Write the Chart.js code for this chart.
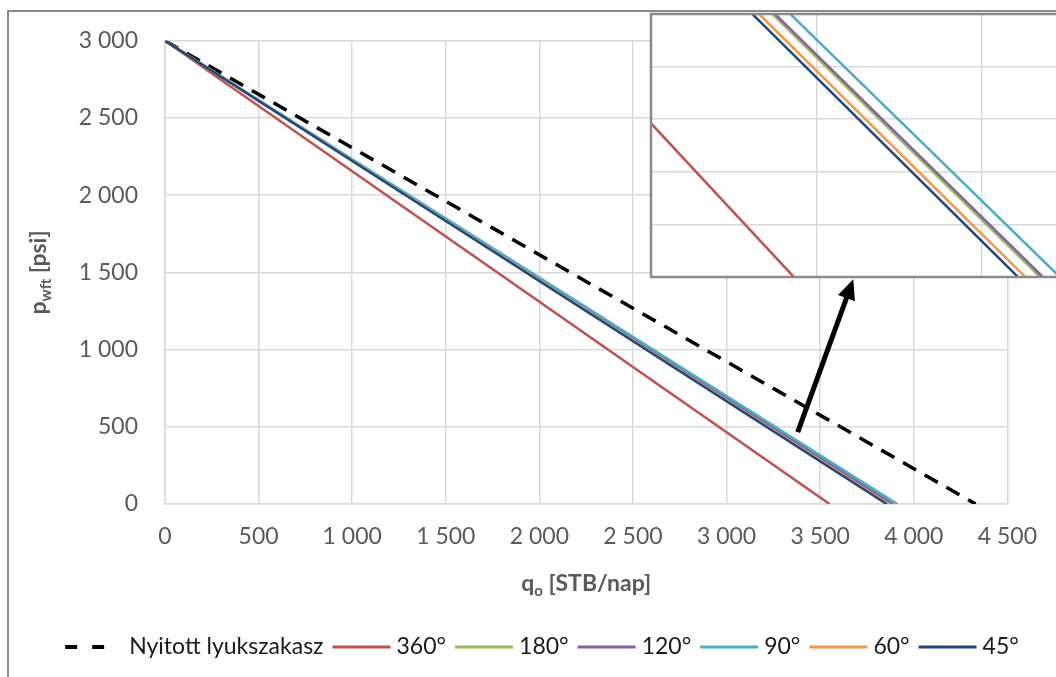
<!DOCTYPE html>
<html>
<head>
<meta charset="utf-8">
<script src="https://cdn.jsdelivr.net/npm/chart.js@4.4.0/dist/chart.umd.min.js"></script>
<style>
  html, body { margin: 0; padding: 0; background: #fff; overflow: hidden; width: 1056px; height: 677px; }
  #frame { position: absolute; left: 7px; top: 10px; width: 1080px; height: 700px; border: 2px solid #8a8a8a; }
  #mainWrap { position: absolute; left: 0; top: 0; width: 1056px; height: 677px; }
  #insetWrap { position: absolute; left: 640px; top: 0; width: 440px; height: 290px; }
</style>
</head>
<body>
<div id="frame"></div>
<div id="mainWrap"><canvas id="main"></canvas></div>
<div id="insetWrap"><canvas id="inset"></canvas></div>
<script>
// series
const seriesLabels = ['Nyitott lyukszakasz', '360°', '180°', '120°', '90°', '60°', '45°'];
const seriesColors = ['#000000', '#c0504d', '#9bbb59', '#8064a2', '#4bacc6', '#f79646', '#1f497d'];

// p_wf at the two ends of each IPR line, q_o where each line meets them
const pwf = [3000, 0];
const qOpenHole = [0, 4330];
const q360 = [0, 3550];
const q180 = [0, 3885];
const q120 = [0, 3889];
const q90 = [0, 3912];
const q60 = [0, 3865];
const q45 = [0, 3855];
const qSeries = [qOpenHole, q360, q180, q120, q90, q60, q45];

// axes
const qTicks = [0, 500, 1000, 1500, 2000, 2500, 3000, 3500, 4000, 4500];
const pTicks = [0, 500, 1000, 1500, 2000, 2500, 3000];

// zoomed window shown in the inset
const insetQ = [1491, 1748];
const insetP = [1667, 1792];
const insetQStep = 100;
const insetPStep = 25;

// arrow pointing to the inset (data coords)
const arrowFrom = [3380, 465];
const arrowTo = [3677, 1455];

const FONT = 'Lato, "Open Sans", sans-serif';
const fmt = v => String(v).replace(/\B(?=(\d{3})+(?!\d))/g, ' ');

function makeDatasets() {
  return seriesLabels.map((label, i) => ({
    label,
    data: qSeries[i].map((q, j) => ({ x: q, y: pwf[j] })),
    borderColor: seriesColors[i],
    borderWidth: i === 0 ? 3.5 : 2.5,
    borderDash: i === 0 ? [15, 10] : [],
    pointRadius: 0,
    fill: false,
    tension: 0,
    order: seriesLabels.length - i
  }));
}

function drawSubText(ctx, x, y, main, sub, rest) {
  const big = 'bold 23px ' + FONT, small = 'bold 15px ' + FONT;
  ctx.font = big; const w1 = ctx.measureText(main).width, w3 = ctx.measureText(rest).width;
  ctx.font = small; const w2 = ctx.measureText(sub).width;
  let sx = x - (w1 + w2 + w3) / 2;
  ctx.textBaseline = 'alphabetic'; ctx.textAlign = 'left';
  ctx.font = big; ctx.fillText(main, sx, y + 8); sx += w1;
  ctx.font = small; ctx.fillText(sub, sx, y + 13); sx += w2;
  ctx.font = big; ctx.fillText(rest, sx, y + 8);
}

const mainDecor = {
  id: 'mainDecor',
  afterDraw(chart) {
    const ctx = chart.ctx, xs = chart.scales.x, ys = chart.scales.y, area = chart.chartArea;
    ctx.save();

    // arrow
    const x1 = xs.getPixelForValue(arrowFrom[0]), y1 = ys.getPixelForValue(arrowFrom[1]);
    const x2 = xs.getPixelForValue(arrowTo[0]), y2 = ys.getPixelForValue(arrowTo[1]);
    const a = Math.atan2(y2 - y1, x2 - x1), hl = 20, hw = 9;
    const bx = x2 - hl * Math.cos(a), by = y2 - hl * Math.sin(a);
    ctx.strokeStyle = '#000'; ctx.fillStyle = '#000'; ctx.lineWidth = 5;
    ctx.beginPath(); ctx.moveTo(x1, y1); ctx.lineTo(bx + Math.cos(a), by + Math.sin(a)); ctx.stroke();
    ctx.beginPath();
    ctx.moveTo(x2, y2);
    ctx.lineTo(bx + hw * Math.sin(a), by - hw * Math.cos(a));
    ctx.lineTo(bx - hw * Math.sin(a), by + hw * Math.cos(a));
    ctx.closePath(); ctx.fill();

    // axis titles
    ctx.fillStyle = '#595959';
    drawSubText(ctx, (area.left + area.right) / 2, 583, 'q', 'o', ' [STB/nap]');
    ctx.save();
    ctx.translate(38, (area.top + area.bottom) / 2);
    ctx.rotate(-Math.PI / 2);
    drawSubText(ctx, 0, 0, 'p', 'wft', ' [psi]');
    ctx.restore();

    // legend
    const sampleW = 58, gapText = 6, gapItem = 9, ly = 647;
    ctx.font = '23px ' + FONT;
    const widths = seriesLabels.map(l => ctx.measureText(l).width);
    const total = widths.reduce((s, w) => s + sampleW + gapText + w, 0) + gapItem * (seriesLabels.length - 1);
    let lx = 542 - total / 2;
    seriesLabels.forEach((label, i) => {
      ctx.strokeStyle = seriesColors[i];
      ctx.lineWidth = i === 0 ? 4 : 3;
      ctx.setLineDash(i === 0 ? [12, 15, 12, 99] : []);
      ctx.beginPath(); ctx.moveTo(lx, ly); ctx.lineTo(lx + sampleW, ly); ctx.stroke();
      ctx.setLineDash([]);
      lx += sampleW + gapText;
      ctx.fillStyle = '#1a1a1a'; ctx.textBaseline = 'middle'; ctx.textAlign = 'left';
      ctx.fillText(label, lx, ly);
      lx += widths[i] + gapItem;
    });
    ctx.restore();
  }
};

new Chart(document.getElementById('main'), {
  type: 'line',
  data: { datasets: makeDatasets() },
  options: {
    responsive: true, maintainAspectRatio: false, animation: false,
    layout: { padding: { left: 0, right: 44, top: 40, bottom: 0 } },
    plugins: { legend: { display: false }, tooltip: { enabled: false } },
    scales: {
      x: {
        type: 'linear', min: 0, max: 4500,
        afterBuildTicks: s => { s.ticks = qTicks.map(v => ({ value: v })); },
        afterFit: s => { s.height = 173; },
        grid: { color: '#d9d9d9', lineWidth: 1.5, drawTicks: false },
        border: { color: '#d9d9d9', width: 1.5 },
        ticks: { color: '#595959', font: { family: FONT, size: 23 }, padding: 19, maxRotation: 0, callback: fmt }
      },
      y: {
        type: 'linear', min: 0, max: 3000,
        afterBuildTicks: s => { s.ticks = pTicks.map(v => ({ value: v })); },
        afterFit: s => { s.width = 165; },
        grid: { color: '#d9d9d9', lineWidth: 1.5, drawTicks: false },
        border: { color: '#d9d9d9', width: 1.5 },
        ticks: { color: '#595959', font: { family: FONT, size: 23 }, padding: 27, callback: fmt }
      }
    }
  },
  plugins: [mainDecor]
});

// inset: same lines, zoomed
const stepsFrom = (lo, hi, step) => { const t = []; for (let v = lo; v <= hi + 1e-6; v += step) t.push({ value: v }); return t; };

const insetFrame = {
  id: 'insetFrame',
  beforeDraw(chart) {
    const { ctx, chartArea: a } = chart;
    ctx.save(); ctx.fillStyle = '#fff'; ctx.fillRect(a.left, a.top, a.right - a.left, a.bottom - a.top); ctx.restore();
  },
  afterDraw(chart) {
    const { ctx, chartArea: a } = chart;
    ctx.save(); ctx.strokeStyle = '#8a8a8a'; ctx.lineWidth = 2.5;
    ctx.strokeRect(a.left, a.top, a.right - a.left, a.bottom - a.top); ctx.restore();
  }
};

new Chart(document.getElementById('inset'), {
  type: 'line',
  data: { datasets: makeDatasets() },
  options: {
    responsive: true, maintainAspectRatio: false, animation: false,
    layout: { padding: { left: 11, right: 4, top: 14, bottom: 13 } },
    plugins: { legend: { display: false }, tooltip: { enabled: false } },
    scales: {
      x: {
        type: 'linear', min: insetQ[0], max: insetQ[1],
        afterBuildTicks: s => { s.ticks = stepsFrom(insetQ[0], insetQ[1], insetQStep); },
        afterFit: s => { s.height = 0; },
        grid: { color: '#d9d9d9', lineWidth: 1.5, drawTicks: false },
        border: { display: false },
        ticks: { display: false }
      },
      y: {
        type: 'linear', min: insetP[0], max: insetP[1],
        afterBuildTicks: s => { s.ticks = stepsFrom(insetP[0], insetP[1], insetPStep); },
        afterFit: s => { s.width = 0; },
        grid: { color: '#d9d9d9', lineWidth: 1.5, drawTicks: false },
        border: { display: false },
        ticks: { display: false }
      }
    }
  },
  plugins: [insetFrame]
});
</script>
</body>
</html>
